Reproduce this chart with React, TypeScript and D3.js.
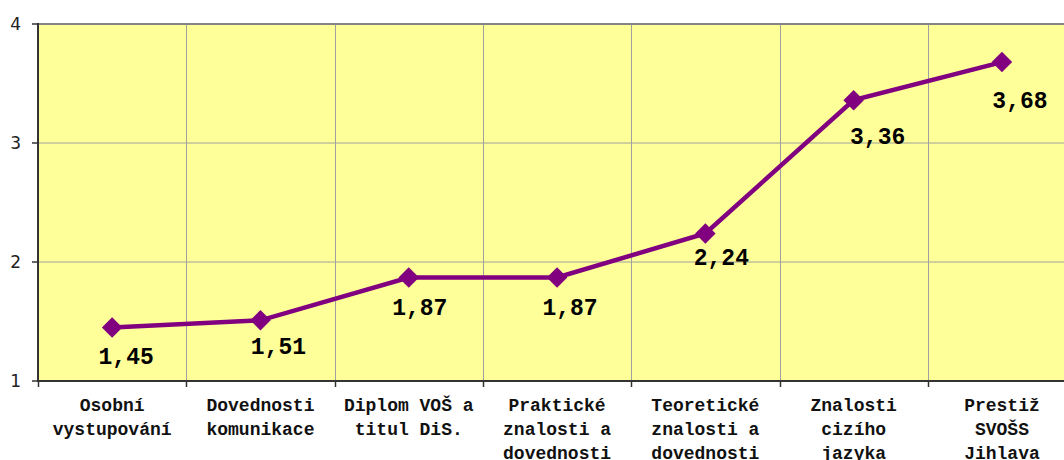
import { useEffect, useRef } from "react";
import * as d3 from "d3";

const categories = [
  "Osobní\nvystupování",
  "Dovednosti\nkomunikace",
  "Diplom VOŠ a\ntitul DiS.",
  "Praktické\nznalosti a\ndovednosti",
  "Teoretické\nznalosti a\ndovednosti",
  "Znalosti\ncizího\njazyka",
  "Prestiž\nSVOŠS\nJihlava",
];
const values = [1.45, 1.51, 1.87, 1.87, 2.24, 3.36, 3.68];
const valueLabels = ["1,45", "1,51", "1,87", "1,87", "2,24", "3,36", "3,68"];
const yTicks = [1, 2, 3, 4];

// label nudges relative to the marker (as placed in the original)
const labelDx = [14, 18, 11, 13, 16, 24, 18];
const labelDy = [37, 34, 38, 38, 32, 44, 46];

const W = 1064;
const H = 460;

export default function App() {
  const svgRef = useRef<SVGSVGElement>(null);

  useEffect(() => {
    if (!svgRef.current) return;
    const svg = d3.select(svgRef.current);
    svg.selectAll("*").remove();

    const left = 38;
    const top = 24;
    const bottom = 381;
    const right = left + 7 * 148.3;

    const x = d3.scaleBand<string>().domain(categories).range([left, right]);
    const y = d3.scaleLinear().domain([1, 4]).range([bottom, top]);
    const cx = (i: number) => x(categories[i])! + x.bandwidth() / 2;

    // plot background
    svg
      .append("rect")
      .attr("x", left)
      .attr("y", top)
      .attr("width", right - left)
      .attr("height", bottom - top)
      .attr("fill", "#FFFF99");

    // horizontal grid
    svg
      .selectAll("line.hgrid")
      .data(yTicks.slice(1, -1))
      .join("line")
      .attr("class", "hgrid")
      .attr("x1", left)
      .attr("x2", right)
      .attr("y1", (d) => y(d))
      .attr("y2", (d) => y(d))
      .attr("stroke", "#a0a0a0")
      .attr("stroke-width", 1);

    // vertical grid at category boundaries
    svg
      .selectAll("line.vgrid")
      .data(categories.slice(1))
      .join("line")
      .attr("class", "vgrid")
      .attr("x1", (d) => Math.round(x(d)!) + 0.5)
      .attr("x2", (d) => Math.round(x(d)!) + 0.5)
      .attr("y1", top)
      .attr("y2", bottom)
      .attr("stroke", "#a0a0a0")
      .attr("stroke-width", 1);

    // top border
    svg
      .append("line")
      .attr("x1", left)
      .attr("x2", right)
      .attr("y1", top)
      .attr("y2", top)
      .attr("stroke", "#858585")
      .attr("stroke-width", 2);

    // y axis
    svg
      .append("line")
      .attr("x1", left)
      .attr("x2", left)
      .attr("y1", top - 1)
      .attr("y2", bottom + 1)
      .attr("stroke", "#333")
      .attr("stroke-width", 2);

    svg
      .selectAll("line.ytick")
      .data(yTicks)
      .join("line")
      .attr("class", "ytick")
      .attr("x1", left - 6)
      .attr("x2", left)
      .attr("y1", (d) => y(d))
      .attr("y2", (d) => y(d))
      .attr("stroke", "#333")
      .attr("stroke-width", 1.5);

    svg
      .selectAll("text.ylab")
      .data(yTicks)
      .join("text")
      .attr("class", "ylab")
      .attr("x", 21)
      .attr("y", (d) => y(d) + 6)
      .attr("text-anchor", "end")
      .attr("font-family", "'DejaVu Sans', Verdana, sans-serif")
      .attr("font-size", 17)
      .attr("fill", "#222")
      .text((d) => d);

    // x axis
    svg
      .append("line")
      .attr("x1", left - 1)
      .attr("x2", right)
      .attr("y1", bottom)
      .attr("y2", bottom)
      .attr("stroke", "#333")
      .attr("stroke-width", 2);

    svg
      .selectAll("line.xtick")
      .data(categories)
      .join("line")
      .attr("class", "xtick")
      .attr("x1", (d) => Math.round(x(d)!) + 0.5)
      .attr("x2", (d) => Math.round(x(d)!) + 0.5)
      .attr("y1", bottom)
      .attr("y2", bottom + 6)
      .attr("stroke", "#333")
      .attr("stroke-width", 1.5);

    const catText = svg
      .selectAll("text.xlab")
      .data(categories)
      .join("text")
      .attr("class", "xlab")
      .attr("text-anchor", "middle")
      .attr("font-family", "'Liberation Mono', 'Courier New', monospace")
      .attr("font-weight", "bold")
      .attr("font-size", 18)
      .attr("fill", "#111");
    catText.each(function (d, i) {
      const t = d3.select(this);
      d.split("\n").forEach((line, k) => {
        t.append("tspan")
          .attr("x", cx(i))
          .attr("y", 411 + k * 24)
          .text(line);
      });
    });

    // line
    const line = d3
      .line<number>()
      .x((_, i) => cx(i))
      .y((d) => y(d));

    svg
      .append("path")
      .datum(values)
      .attr("d", line)
      .attr("fill", "none")
      .attr("stroke", "#800080")
      .attr("stroke-width", 4.5);

    // diamond markers
    svg
      .selectAll("path.marker")
      .data(values)
      .join("path")
      .attr("class", "marker")
      .attr("d", d3.symbol().type(d3.symbolSquare).size(210))
      .attr("transform", (d, i) => `translate(${cx(i)},${y(d)}) rotate(45)`)
      .attr("fill", "#800080");

    // data labels
    svg
      .selectAll("text.vlab")
      .data(values)
      .join("text")
      .attr("class", "vlab")
      .attr("x", (_, i) => cx(i) + labelDx[i])
      .attr("y", (d, i) => y(d) + labelDy[i])
      .attr("text-anchor", "middle")
      .attr("font-family", "'Liberation Mono', 'Courier New', monospace")
      .attr("font-weight", "bold")
      .attr("font-size", 23)
      .attr("fill", "#000")
      .text((_, i) => valueLabels[i]);
  }, []);

  return (
    <svg
      ref={svgRef}
      width={W}
      height={H}
      style={{ position: "absolute", left: 0, top: 0, background: "#fff" }}
    />
  );
}
